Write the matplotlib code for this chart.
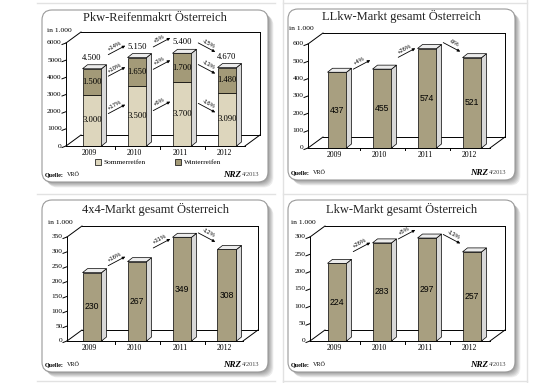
import math
import matplotlib
matplotlib.use("Agg")
import matplotlib.pyplot as plt
from matplotlib.patches import FancyBboxPatch, Polygon, Rectangle

# ---- Daten ----
years = ["2009", "2010", "2011", "2012"]

pkw_sommer = [3000, 3500, 3700, 3090]
pkw_winter = [1500, 1650, 1700, 1480]
pkw_total = [4500, 5150, 5400, 4670]
pkw_pct_total = ["+14%", "+5%", "-15%"]
pkw_pct_winter = ["+10%", "+3%", "-13%"]
pkw_pct_sommer = ["+17%", "+6%", "-16%"]

llkw = [437, 455, 574, 521]
llkw_pct = ["+4%", "+26%", "-9%"]

allrad = [230, 267, 349, 308]
allrad_pct = ["+16%", "+31%", "-12%"]

lkw = [224, 283, 297, 257]
lkw_pct = ["+26%", "+5%", "-13%"]

W, H = 550, 383
SERIF = "Liberation Serif"
SANS = "Liberation Sans"
C_BAR = "#a89f80"
C_SOMMER = "#ddd6bd"
C_WINTER = "#a39a78"
C_SIDE = "#d9d9d9"
C_TOP = "#ececec"

S = 45.0          # px pro Kategorie
WALL_DX, WALL_DY = 15, 11
BAR_W = 19 / S
BAR_DX, BAR_DY = 5, 4

fig = plt.figure(figsize=(W / 100, H / 100), dpi=100)
bg = fig.add_axes([0, 0, 1, 1])
bg.set_xlim(0, W)
bg.set_ylim(H, 0)
bg.axis("off")

# feine Tabellenlinien
for y in (3, 194, 381):
    bg.plot([37, 275], [y, y], color="#e2e2e2", lw=1)
    bg.plot([283, 527], [y, y], color="#e2e2e2", lw=1)
for x in (283, 527):
    bg.plot([x, x], [0, H], color="#e2e2e2", lw=1)


def fmt(v):
    return f"{v:,}".replace(",", ".")


def panel_box(x0, y0, x1, y1, title, ty):
    for i in range(6, 0, -1):
        bg.add_patch(FancyBboxPatch((x0 + i * 0.9, y0 + i * 0.9), x1 - x0, y1 - y0,
                                    boxstyle="round,pad=0,rounding_size=10",
                                    fc="#000000", ec="none", alpha=0.07))
    bg.add_patch(FancyBboxPatch((x0, y0), x1 - x0, y1 - y0,
                                boxstyle="round,pad=0,rounding_size=10",
                                fc="white", ec="#9a9a9a", lw=0.8))
    bg.text((x0 + x1) / 2, ty, title, ha="center", va="center",
            fontsize=9.0, family=SERIF, color="#222222")


def footer(x0, x1, y):
    bg.text(x0 + 3, y, "Quelle:", ha="left", va="center", fontsize=4.4,
            family=SERIF, fontweight="bold")
    bg.text(x0 + 25, y, "VRÖ", ha="left", va="center", fontsize=4.4, family=SERIF)
    bg.text(x1 - 9, y, "4/2013", ha="right", va="center", fontsize=4.6,
            family=SERIF, color="#444444")
    bg.text(x1 - 27, y, "NRZ", ha="right", va="center", fontsize=6.5,
            family=SERIF, fontweight="bold", style="italic")


def chart_axes(xc0, yb, k, ax_px, wall_px, vtop):
    xl = (ax_px - xc0) / S - 0.05
    xr = (wall_px - xc0) / S + 0.05
    left = xc0 + S * xl
    right = xc0 + S * xr
    top_px = yb - k * vtop
    ax = fig.add_axes([left / W, 1 - yb / H, (right - left) / W, (yb - top_px) / H])
    ax.set_xlim(xl, xr)
    ax.set_ylim(0, vtop)
    ax.axis("off")
    return ax


def frame(ax, k, ax_px, xc0, wall_px, ticks, unit_y):
    ax_x = (ax_px - xc0) / S
    wall_x = (wall_px - xc0) / S
    dx = WALL_DX / S
    dy = WALL_DY / k
    vmax = ticks[-1]
    front_r = wall_x - dx
    kw = dict(color="black", lw=0.7, clip_on=False, zorder=1)
    ax.plot([ax_x, ax_x], [0, vmax], **kw)
    ax.plot([ax_x, ax_x + dx], [vmax, vmax + dy], **kw)
    ax.plot([ax_x + dx, wall_x], [vmax + dy, vmax + dy], **kw)
    ax.plot([wall_x, wall_x], [vmax + dy, dy], **kw)
    ax.plot([ax_x + dx, wall_x], [dy, dy], **kw)
    ax.plot([ax_x, front_r], [0, 0], **kw)
    ax.plot([ax_x, ax_x + dx], [0, dy], **kw)
    ax.plot([front_r, wall_x], [0, dy], **kw)
    for i in range(len(years) - 1):
        ax.plot([i + 0.5, i + 0.5], [0, -2.5 / k], **kw)
    tl = 4 / S
    for t in ticks:
        ax.plot([ax_x - tl, ax_x], [t - 1.5 / k, t], **kw)
        ax.text(ax_x - tl - 0.01, t, str(t), ha="right", va="center",
                fontsize=5.3, family=SERIF, clip_on=False)
    for i, y in enumerate(years):
        ax.text(i - 0.05, -7 / k, y, ha="center", va="center", fontsize=5.6,
                family=SERIF, clip_on=False)
    ax.text(ax_x - 0.42, vmax + unit_y / k, "in 1.000", ha="left", va="center",
            fontsize=5.4, family=SERIF, clip_on=False)


def bar3d(ax, k, x, bottom, top):
    bdx = BAR_DX / S
    bdy = BAR_DY / k
    r = x + BAR_W / 2
    l = x - BAR_W / 2
    ax.add_patch(Polygon([(r, bottom), (r + bdx, bottom + bdy), (r + bdx, top + bdy), (r, top)],
                         closed=True, fc=C_SIDE, ec="black", lw=0.5, zorder=3))
    ax.add_patch(Polygon([(l, top), (l + bdx, top + bdy), (r + bdx, top + bdy), (r, top)],
                         closed=True, fc=C_TOP, ec="black", lw=0.5, zorder=3))


def arrow_between(ax, k, i, v1, v2, label, lift):
    # Pfeil mit fester Neigung zwischen zwei Balken
    sign = 1 if v2 >= v1 else -1
    cy = k * (v1 + v2) / 2 + lift
    hx, hy = 8.5, 4.5
    xc = i + 0.55
    x1, y1 = xc - hx / S, (cy - sign * hy) / k
    x2, y2 = xc + hx / S, (cy + sign * hy) / k
    ax.annotate("", xy=(x2, y2), xytext=(x1, y1),
                arrowprops=dict(arrowstyle="-|>", lw=0.6, color="black",
                                mutation_scale=4, shrinkA=0, shrinkB=0),
                annotation_clip=False, zorder=5)
    ang = math.degrees(math.atan2(sign * hy, hx))
    nx = -math.sin(math.radians(ang)) * 2 / S
    nv = math.cos(math.radians(ang)) * 2 / k
    ax.text(xc + nx, cy / k + nv, label, rotation=ang, rotation_mode="anchor",
            ha="center", va="bottom", fontsize=4.2, family=SANS,
            clip_on=False, zorder=5)


def single_panel(box, title, ty, fy, xc0, yb, k, ax_px, wall_px, ticks, vals, pcts):
    panel_box(*box, title, ty)
    footer(box[0], box[2], fy)
    ax = chart_axes(xc0, yb, k, ax_px, wall_px, ticks[-1] + 20 / k)
    frame(ax, k, ax_px, xc0, wall_px, ticks, 15)
    xs = list(range(len(vals)))
    ax.bar(xs, vals, width=BAR_W, color=C_BAR, edgecolor="black", lw=0.5, zorder=3)
    for x, v in zip(xs, vals):
        bar3d(ax, k, x, 0, v)
        ax.text(x, v / 2, str(v), ha="center", va="center", fontsize=6.2,
                family=SANS, zorder=4)
    for i, p in enumerate(pcts):
        arrow_between(ax, k, i, vals[i], vals[i + 1], p, 6)


# ---- Panel 1: Pkw-Reifenmarkt ----
panel_box(42, 10, 268, 182, "Pkw-Reifenmakrt Österreich", 18)
footer(42, 268, 175)
k1 = 103 / 6000
ticks1 = list(range(0, 7000, 1000))
ax1 = chart_axes(92, 146, k1, 66, 260, 6000 + 20 / k1)
frame(ax1, k1, 66, 92, 260, ticks1, 12)
xs = list(range(len(years)))
ax1.bar(xs, pkw_sommer, width=BAR_W, color=C_SOMMER, edgecolor="black", lw=0.5, zorder=3)
ax1.bar(xs, pkw_winter, bottom=pkw_sommer, width=BAR_W, color=C_WINTER,
        edgecolor="black", lw=0.5, zorder=3)
for x, s, w, t in zip(xs, pkw_sommer, pkw_winter, pkw_total):
    bar3d(ax1, k1, x, 0, s + w)
    ax1.text(x, s / 2, fmt(s), ha="center", va="center", fontsize=6.2, family=SERIF, zorder=4)
    ax1.text(x, s + w / 2, fmt(w), ha="center", va="center", fontsize=6.2, family=SERIF, zorder=4)
    ax1.text(x, s + w + 11 / k1, fmt(t), ha="center", va="center", fontsize=6.2,
             family=SERIF, zorder=4)
tops = [s + w for s, w in zip(pkw_sommer, pkw_winter)]
for i in range(3):
    arrow_between(ax1, k1, i, tops[i], tops[i + 1], pkw_pct_total[i], 13)
    wm = [pkw_sommer[j] + pkw_winter[j] / 2 for j in (i, i + 1)]
    arrow_between(ax1, k1, i, wm[0], wm[1], pkw_pct_winter[i], 5)
    sm = [pkw_sommer[j] / 2 for j in (i, i + 1)]
    arrow_between(ax1, k1, i, sm[0], sm[1], pkw_pct_sommer[i], 9)

# Legende
bg.add_patch(Rectangle((95, 159), 6, 6, fc=C_SOMMER, ec="black", lw=0.5))
bg.text(104, 162, "Sommerreifen", ha="left", va="center", fontsize=5.2, family=SERIF)
bg.add_patch(Rectangle((175, 159), 6, 6, fc=C_WINTER, ec="black", lw=0.5))
bg.text(184, 162, "Winterreifen", ha="left", va="center", fontsize=5.2, family=SERIF)

# ---- Panel 2: LLkw ----
single_panel((288, 9, 515, 180), "LLkw-Markt gesamt Österreich", 16, 173,
             337, 148, 104 / 600, 308, 505, list(range(0, 700, 100)), llkw, llkw_pct)

# ---- Panel 3: 4x4 ----
single_panel((42, 200, 268, 372), "4x4-Markt gesamt Österreich", 209, 365,
             92, 341, 104 / 350, 67, 258, list(range(0, 400, 50)), allrad, allrad_pct)

# ---- Panel 4: Lkw ----
single_panel((288, 200, 515, 372), "Lkw-Markt gesamt Österreich", 209, 365,
             337, 341, 104 / 300, 310, 505, list(range(0, 350, 50)), lkw, lkw_pct)

fig.savefig("out.png", dpi=100)
